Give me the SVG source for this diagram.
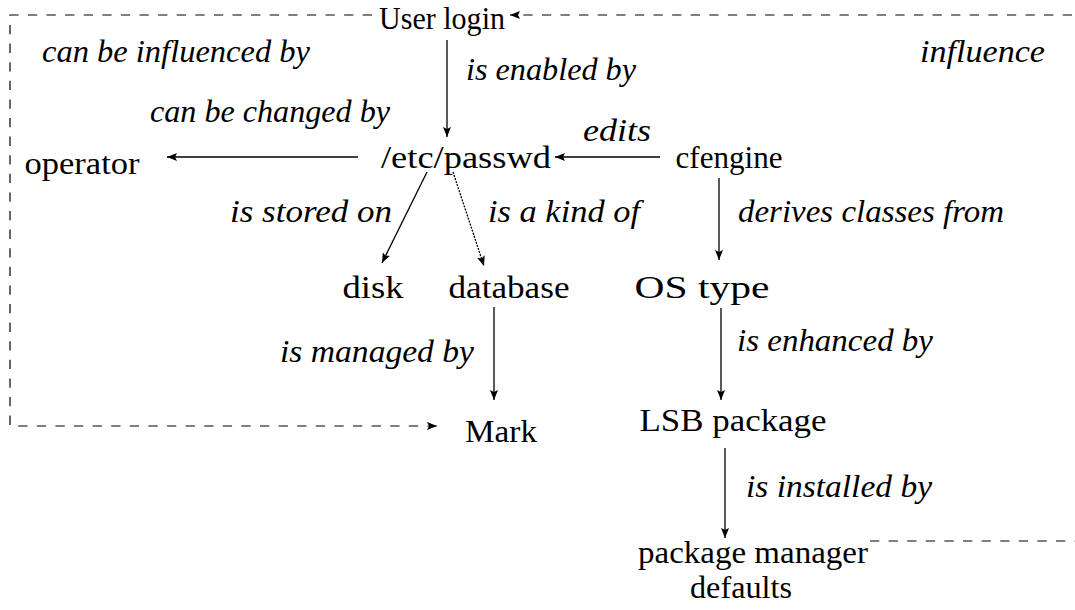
<svg xmlns="http://www.w3.org/2000/svg" width="1075" height="610" viewBox="0 0 1075 610">
  <style>
    .node { font-family: "Liberation Serif", "DejaVu Serif", serif; font-size: 32px; fill: #000; text-anchor: middle; }
    .lbl { font-family: "Liberation Serif", "DejaVu Serif", serif; font-size: 32px; font-style: italic; fill: #000; }
    .edge { stroke: #000; stroke-width: 1.3; fill: none; }
    .dotted { stroke-dasharray: 2 1.2; }
    .dashed { stroke: #000; stroke-width: 1.2; fill: none; stroke-dasharray: 9.3 9.3; }
  </style>
  <defs>
    <marker id="arrow" viewBox="0 0 10 8" refX="10" refY="4" markerWidth="10" markerHeight="8" markerUnits="userSpaceOnUse" orient="auto">
      <path d="M0,0 L10,4 L0,8 L2,4 Z" fill="#000"/>
    </marker>
  </defs>
  <rect width="1075" height="610" fill="#fff"/>

  <g id="connectors">
    <!-- solid relations -->
    <line class="edge" x1="447" y1="40" x2="447" y2="137" marker-end="url(#arrow)"/>
    <line class="edge" x1="358" y1="157" x2="167" y2="157" marker-end="url(#arrow)"/>
    <line class="edge" x1="660" y1="157" x2="555" y2="157" marker-end="url(#arrow)"/>
    <line class="edge" x1="427" y1="172" x2="382" y2="263" marker-end="url(#arrow)"/>
    <line class="edge dotted" x1="453" y1="172" x2="484" y2="266" marker-end="url(#arrow)"/>
    <line class="edge" x1="719" y1="178" x2="719" y2="260" marker-end="url(#arrow)"/>
    <line class="edge" x1="494" y1="307" x2="494" y2="400" marker-end="url(#arrow)"/>
    <line class="edge" x1="721" y1="308" x2="721" y2="400" marker-end="url(#arrow)"/>
    <line class="edge" x1="725" y1="448" x2="725" y2="538" marker-end="url(#arrow)"/>
    <!-- influence loops -->
    <path class="dashed" d="M870,541 H1080 V15 H510" marker-end="url(#arrow)"/>
    <path class="dashed" d="M372,15 H10 V426 H437" marker-end="url(#arrow)"/>
  </g>

  <g id="labels">
    <text class="lbl" x="42" y="62" textLength="268" lengthAdjust="spacingAndGlyphs">can be influenced by</text>
    <text class="lbl" x="466" y="80" textLength="170" lengthAdjust="spacingAndGlyphs">is enabled by</text>
    <text class="lbl" x="920" y="62" textLength="125" lengthAdjust="spacingAndGlyphs">influence</text>
    <text class="lbl" x="150" y="122" textLength="240" lengthAdjust="spacingAndGlyphs">can be changed by</text>
    <text class="lbl" x="583" y="141" textLength="68" lengthAdjust="spacingAndGlyphs">edits</text>
    <text class="lbl" x="230" y="222" textLength="162" lengthAdjust="spacingAndGlyphs">is stored on</text>
    <text class="lbl" x="488" y="222" textLength="152" lengthAdjust="spacingAndGlyphs">is a kind of</text>
    <text class="lbl" x="738" y="222" textLength="266" lengthAdjust="spacingAndGlyphs">derives classes from</text>
    <text class="lbl" x="280" y="362" textLength="194" lengthAdjust="spacingAndGlyphs">is managed by</text>
    <text class="lbl" x="737" y="351" textLength="196" lengthAdjust="spacingAndGlyphs">is enhanced by</text>
    <text class="lbl" x="746" y="497" textLength="186" lengthAdjust="spacingAndGlyphs">is installed by</text>
  </g>

  <g id="user-login"><text class="node" x="442" y="29" textLength="126" lengthAdjust="spacingAndGlyphs">User login</text></g>
  <g id="operator"><text class="node" x="82" y="174" textLength="115" lengthAdjust="spacingAndGlyphs">operator</text></g>
  <g id="passwd"><text class="node" x="466" y="168" textLength="170" lengthAdjust="spacingAndGlyphs">/etc/passwd</text></g>
  <g id="cfengine"><text class="node" x="729" y="168" textLength="107" lengthAdjust="spacingAndGlyphs">cfengine</text></g>
  <g id="disk"><text class="node" x="373" y="298" textLength="61" lengthAdjust="spacingAndGlyphs">disk</text></g>
  <g id="database"><text class="node" x="509" y="298" textLength="121" lengthAdjust="spacingAndGlyphs">database</text></g>
  <g id="os-type"><text class="node" x="702" y="298" textLength="135" lengthAdjust="spacingAndGlyphs">OS type</text></g>
  <g id="mark"><text class="node" x="501" y="442" textLength="72" lengthAdjust="spacingAndGlyphs">Mark</text></g>
  <g id="lsb-package"><text class="node" x="733" y="431" textLength="187" lengthAdjust="spacingAndGlyphs">LSB package</text></g>
  <g id="package-manager">
    <text class="node" x="753" y="563" textLength="230" lengthAdjust="spacingAndGlyphs">package manager</text>
    <text class="node" x="741" y="598" textLength="102" lengthAdjust="spacingAndGlyphs">defaults</text>
  </g>
</svg>
